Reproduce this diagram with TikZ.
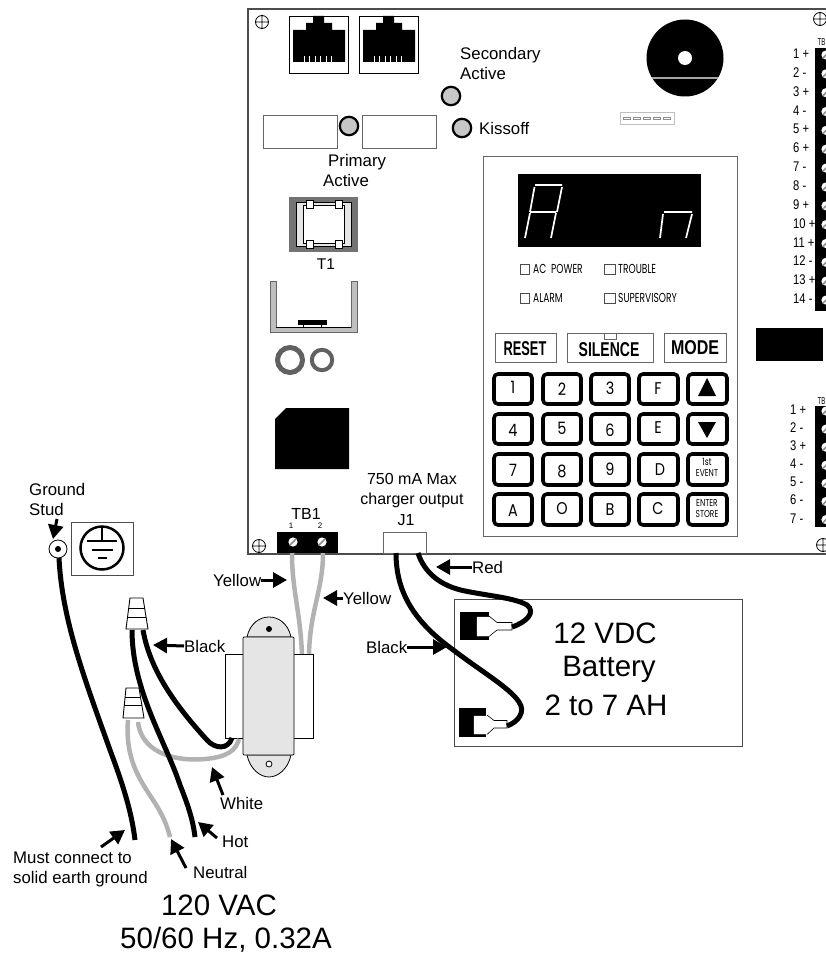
\documentclass[tikz,border=0pt]{standalone}
\usepackage{fontspec}
\usepackage{graphicx}
\setmainfont{Liberation Sans}
\newfontfamily\pop{Poppins}
\usetikzlibrary{arrows.meta}
\newcommand{\fs}[1]{\fontsize{#1}{#1}\selectfont}
\newcommand{\nar}[3]{\scalebox{#1}[1]{\pop\fs{#2}#3}}
\tikzset{
  lab/.style={inner sep=0pt,anchor=west,text height=12pt,text depth=0pt,font=\fs{16.8}},
  labc/.style={inner sep=0pt,anchor=center,align=center,font=\fs{16}},
  big/.style={inner sep=0pt,anchor=center,font=\fs{29.5}},
  arr/.style={line width=3pt,-{Triangle[length=14pt,width=15pt]}},
  blackwire/.style={line width=5pt,black},
  graywire/.style={line width=4.5pt,black!30},
  thinbox/.style={draw=black!60,line width=.9pt,fill=white},
  keybox/.style={draw=black,line width=3.6pt,rounded corners=4pt,fill=white},
  keytext/.style={inner sep=0pt,anchor=center,align=center},
  pnum/.style={inner sep=0pt,anchor=west,text height=9pt,font=\fs{14}},
  led/.style={draw=black,line width=2.2pt,fill=black!22},
  chk/.style={draw=black!70,line width=.7pt,fill=white},
  chktext/.style={inner sep=0pt,anchor=west},
  seg/.style={draw=white,line width=1.7pt},
  nut/.style={draw=black,line width=.9pt,fill=white},
  term/.style={draw=black,line width=.7pt,fill=white},
  hole/.style={draw=black,line width=.8pt}
}
\newcommand{\mount}[2]{\draw[hole] (#1,#2) circle (6.5) (#1-7,#2) -- (#1+7,#2) (#1,#2-7) -- (#1,#2+7);}
\newcommand{\jack}[1]{%
  \begin{scope}[shift={(#1,0)}]
    \draw[thinbox,draw=black,line width=.8pt] (0,16) rectangle (59,73);
    \fill[black] (24,16) -- (35,16) -- (35,23) -- (43,23) -- (43,30) -- (56,30) -- (56,62) -- (4,62) -- (4,30) -- (17,30) -- (17,23) -- (24,23) -- cycle;
    \foreach \x in {15,20,26,31,37,42} \draw[white,line width=.7pt] (\x,56) -- (\x,62);
  \end{scope}}
\newcommand{\screw}[2]{%
  \fill[white] (#1,#2) circle (4.6);
  \draw[black!45,line width=1.5pt] (#1-3.3,#2+3.3) -- (#1+3.3,#2-3.3);}
\begin{document}
\begin{tikzpicture}[x=1pt,y=-1pt]
\useasboundingbox (0,0) rectangle (826,955);
\begin{scope}
\clip (0,0) rectangle (826,955);
% board
\draw[black!70,line width=1.1pt] (830,9) -- (248,9) -- (248,554) -- (830,554);
\mount{262}{22}\mount{259}{546}\mount{820}{19}\mount{823}{545}
\jack{289}\jack{359}
% top left parts
\draw[thinbox] (263,115) rectangle (337,148);
\draw[thinbox] (362,115) rectangle (436,148);
\draw[led] (451,96) circle (9.2);
\draw[led] (349,126) circle (9.2);
\draw[led] (462,128) circle (9.2);
\node[lab] (sec) at (460,54) {Secondary};
\node[lab] (act1) at (460,74) {Active};
\node[lab] (kis) at (479,129) {Kissoff};
\node[lab] (pri) at (328,160) {Primary};
\node[lab] (act2) at (323,180) {Active};
% T1
\fill[black!55] (289,197) rectangle (358,252);
\draw[black,line width=.5pt,fill=black!10] (296,202) rectangle (351,246);
\draw[black,line width=.8pt,fill=white] (303,205) rectangle (344,243);
\foreach \x in {310,339} {
  \draw[black,line width=.4pt,fill=white] (\x-3.5,200) rectangle (\x+3.5,208);
  \draw[black,line width=.4pt,fill=white] (\x-3.5,240) rectangle (\x+3.5,248);
}
\node[inner sep=0pt,font=\fs{15.5}] (t1) at (326,264) {T1};
% bracket
\fill[black!25,draw=black!60,line width=.5pt] (270,281) -- (276,281) -- (276,327) -- (351,327) -- (351,281) -- (357,281) -- (357,332) -- (270,332) -- cycle;
\draw[black,line width=.8pt] (276,327) -- (351,327);
\fill[black] (298,320) rectangle (327,325);
\draw[black,line width=.4pt] (303,325) -- (303,327) (321,325) -- (321,327);
\draw[black!62,line width=5pt] (290,360) circle (12.5);
\draw[black!62,line width=4pt] (322,360) circle (10.2);
\fill[black] (286,408) -- (349,408) -- (349,469) -- (275,469) -- (275,419) -- cycle;
% disc
\fill[black] (685,58) circle (38.5);
\fill[white] (685,58) circle (7);
\draw[black!35,line width=1.2pt] (652,78) -- (718,78);
\draw[black!25,line width=.8pt,fill=white] (620,112) rectangle (674,124);
\foreach \x in {623,633,643,653,663} \draw[black!45,line width=.5pt] (\x,117) rectangle (\x+7,119.5);
% panel
\draw[black!60,line width=.9pt,fill=white] (483,156) rectangle (737,536);
\fill[black] (518,174) rectangle (701,247);
\draw[seg] (535,185) -- (562,185) (534.5,187) -- (530,212) (530,213) -- (525,238) (562,187) -- (557,212) (556,213) -- (551,238) (530,212) -- (556,212);
\draw[seg] (664,212) -- (692,212) (663,214) -- (660,238) (692,214) -- (686,238);
\draw[chk] (520,264) rectangle (529,274);
\draw[chk] (604,264) rectangle (615,274);
\draw[chk] (520,293) rectangle (529,303);
\draw[chk] (604,293) rectangle (615,303);
\node[chktext] (c1) at (533,269) {\nar{.7}{13}{AC\ \ POWER}};
\node[chktext] (c2) at (618,269) {\nar{.7}{13}{TROUBLE}};
\node[chktext] (c3) at (533,298) {\nar{.7}{13}{ALARM}};
\node[chktext] (c4) at (618,298) {\nar{.7}{13}{SUPERVISORY}};
% mode buttons
\draw[thinbox] (495,333) rectangle (556,362);
\draw[thinbox] (567,333) rectangle (653,362);
\draw[thinbox] (664,333) rectangle (726,362);
\draw[black!60,line width=.7pt] (604,333) -- (604,339) -- (616,339) -- (616,333);
\node[keytext] (rs) at (525,349) {\scalebox{.64}[1]{\fs{20}\textbf{RESET}}};
\node[keytext] (si) at (609,350) {\scalebox{.7}[1]{\fs{20}\textbf{SILENCE}}};
\node[keytext] (mo) at (695,348) {\scalebox{.8}[1]{\fs{20}\textbf{MODE}}};
% keypad
\foreach \x/\xa/\xb in {1/493/533,2/542/582,3/590/630,4/638/679,5/687/728}
  \foreach \y/\ya/\yb in {1/373/405,2/413/445,3/453/486,4/493/526}
    \draw[keybox] (\xa+1,\ya+1) rectangle (\xb-1,\yb-1);
\foreach \n/\t/\x/\y in {k1/1/513/387,k2/2/562/389,k3/3/610/388,kF/F/658/389,
  k4/4/513/430,k5/5/562/428,k6/6/610/430,kE/E/658/428,
  k7/7/513/470,k8/8/562/471,k9/9/610/469,kD/D/660/470,
  kA/A/513/511,kO/O/562/509,kB/B/610/510,kC/C/658/509}
  \node[keytext] (\n) at (\x,\y) {\nar{.85}{17}{\t}};
\fill[black] (707,378) -- (716,396) -- (698,396) -- cycle;
\fill[black] (698,422) -- (716,422) -- (707,438) -- cycle;
\node[keytext] (kev) at (707,469) {\scalebox{.75}[1]{\pop\fs{10}\begin{tabular}{@{}c@{}}1st\\[1.5pt]EVENT\end{tabular}}};
\node[keytext] (ken) at (707,510) {\scalebox{.75}[1]{\pop\fs{10}\begin{tabular}{@{}c@{}}ENTER\\[1.5pt]STORE\end{tabular}}};
% right strips
\fill[black] (815,48) rectangle (830,311);
\fill[black] (756,328) rectangle (823,361);
\fill[black] (815,406) rectangle (830,527);
\foreach \i/\t in {1/1 +,2/2 -,3/3 +,4/4 -,5/5 +,6/6 +,7/7 -,8/8 -,9/9 +,10/10 +,11/11 +,12/12 -,13/13 +,14/14 -}{
  \node[pnum] (p\i) at (793,54+18.85*\i-18.85) {\scalebox{.8}[1]{\t}};
  \screw{826}{55+18.85*\i-18.85}
}
\foreach \i/\t in {1/1 +,2/2 -,3/3 +,4/4 -,5/5 -,6/6 -,7/7 -}{
  \node[pnum] (q\i) at (790,410+18.1*\i-18.1) {\scalebox{.8}[1]{\t}};
  \screw{826}{411+18.1*\i-18.1}
}
\node[inner sep=0pt,anchor=west] (tbu) at (817.5,42) {\scalebox{.6}[1]{\fs{10}TB}};
\node[inner sep=0pt,anchor=west] (tbl) at (817.5,401) {\scalebox{.6}[1]{\fs{10}TB}};
% TB1 and J1
\node[labc] (l750) at (412,491) {750 mA Max\\[4pt]charger output};
\node[labc] (j1) at (406,520) {J1};
\node[labc] (tb1) at (306,514) {TB1};
\fill[black] (277,532) rectangle (338,553);
\node[inner sep=0pt,font=\fs{8}] (n1) at (291,526) {1};
\node[inner sep=0pt,font=\fs{8}] (n2) at (320,526) {2};
\screw{293}{542}\screw{322}{542}
\draw[thinbox] (383,532) rectangle (426,553);
% battery
\draw[black!70,line width=.9pt,fill=white] (454,599) rectangle (742,746);
\node[big] (b1) at (605,633) {12 VDC};
\node[big] (b2) at (609,669) {Battery};
\node[big] (b3) at (606,705) {2 to 7 AH};
% battery terminals
\fill[black] (460,612) rectangle (489,640);
\draw[term,draw=white,line width=.1pt] (477,617) -- (489,617) -- (497,623) -- (512,623) -- (512,630) -- (497,630) -- (489,636) -- (477,636) -- cycle;
\draw[black,line width=.6pt] (489,616) -- (497,622.5) -- (512,622.5) -- (512,630) -- (497,630) -- (489,636.5);
\fill[black] (459,708) rectangle (486,737);
\draw[term,draw=white,line width=.1pt] (474,716) -- (487,716) -- (494,721) -- (507,721) -- (507,728) -- (494,728) -- (487,734) -- (474,734) -- cycle;
\draw[black,line width=.6pt] (487,715) -- (494,720.5) -- (507,720.5) -- (507,728) -- (494,728) -- (487,734.5);
% battery wires
\draw[blackwire] (418,553) .. controls (424,572) and (440,586) .. (465,591)
  .. controls (490,596) and (515,598) .. (527,605)
  .. controls (536,612) and (527,622) .. (512,627);
\draw[blackwire] (396,553) .. controls (396,590) and (412,620) .. (452,649)
  .. controls (482,672) and (510,688) .. (519,702)
  .. controls (526,712) and (518,722) .. (507,726);
% transformer
\draw[black,line width=.8pt,fill=white] (225,654) rectangle (313,738);
\draw[black,line width=.8pt,fill=black!10] (247,637) .. controls (250,623) and (260,617) .. (269,617) .. controls (278,617) and (288,623) .. (291,637) -- cycle;
\draw[black,line width=.8pt,fill=black!10] (247,755) .. controls (250,769) and (260,777) .. (269,777) .. controls (278,777) and (288,769) .. (291,755) -- cycle;
\draw[black,line width=.8pt,fill=black!10,rounded corners=1pt] (243,637) rectangle (294,755);
\fill[black] (269,629) circle (3);
\draw[black,line width=.8pt,fill=white] (269,764) circle (3);
% yellow wires
\draw[graywire] (292,553) .. controls (292,590) and (300,610) .. (302,654);
\draw[graywire] (323,553) .. controls (323,590) and (310,610) .. (309,654);
% AC wires
\draw[graywire] (138,722) .. controls (141,750) and (170,762) .. (205,759) .. controls (228,757) and (236,750) .. (239,739);
\draw[blackwire] (143,630) .. controls (150,670) and (175,705) .. (207,740) .. controls (215,749) and (228,750) .. (232,738);
\draw[blackwire] (132,630) .. controls (132,690) and (165,740) .. (180,785) .. controls (188,805) and (193,820) .. (195,837);
\draw[graywire] (128,720) .. controls (125,760) and (140,780) .. (155,803) .. controls (163,816) and (167,825) .. (170,837);
\draw[blackwire] (59,558) .. controls (62,620) and (85,680) .. (110,750) .. controls (125,790) and (132,815) .. (135,840);
% wire nuts
\draw[nut] (130,598) -- (143,598) -- (148,629) -- (126,629) -- cycle;
\draw[black,line width=1pt] (128.5,608) -- (144.5,608) (127.5,617) -- (146,617);
\draw[nut] (126,688) -- (139,688) -- (144,718) -- (123,718) -- cycle;
\draw[black,line width=1pt] (125,697) -- (140,697) (124,705) -- (142,705);
% ground
\draw[black,line width=.8pt,fill=white] (58,549) circle (9);
\fill[black] (58,549) circle (3);
\draw[black!70,line width=.8pt,fill=white] (71,522) rectangle (133,575);
\draw[black,line width=2.5pt] (102,548) circle (21.5);
\draw[black,line width=2pt] (102,527) -- (102,541) (87,541) -- (117,541) (92,550) -- (113,550) (98,558) -- (107,558);
\node[lab] (gr) at (29,489) {Ground};
\node[lab] (st) at (29,509) {Stud};
\coordinate (gst) at (57,519); \coordinate (gsh) at (53,539);
\draw[arr] (gst) -- (gsh);
% labels with arrows
\node[lab] (y1) at (213,580) {Yellow};
\coordinate (y1h) at (287,580);
\draw[arr] (y1) -- (y1h);
\node[lab] (y2) at (343,598) {Yellow};
\coordinate (y2h) at (323,598);
\draw[arr] (y2.west) -- (y2h);
\node[lab] (bl1) at (184,646) {Black};
\coordinate (bl1h) at (153,645);
\draw[arr] (bl1.west) -- (bl1h);
\node[lab] (wh) at (220,803) {White};
\coordinate (wht) at (223,795); \coordinate (whh) at (212,767);
\draw[arr] (wht) -- (whh);
\node[lab] (ho) at (222,841) {Hot};
\coordinate (hot) at (217,838); \coordinate (hoh) at (198,822);
\draw[arr] (hot) -- (hoh);
\node[lab] (ne) at (193,872) {Neutral};
\coordinate (net) at (186,868); \coordinate (neh) at (171,839);
\draw[arr] (net) -- (neh);
\node[lab] (mu1) at (13,857) {Must connect to};
\node[lab] (mu2) at (13,877) {solid earth ground};
\coordinate (mut) at (101,847); \coordinate (muh) at (125,830);
\draw[arr] (mut) -- (muh);
\node[lab] (re) at (472,567) {Red};
\coordinate (reh) at (436,567);
\draw[arr] (re.west) -- (reh);
\node[lab] (bl2) at (366,647) {Black};
\coordinate (bl2h) at (447,647);
\draw[arr] (bl2.east) -- (bl2h);
\node[big] (v1) at (219,905) {120 VAC};
\node[big] (v2) at (226,940) {50/60 Hz, 0.32A};
\end{scope}
\end{tikzpicture}
\end{document}
